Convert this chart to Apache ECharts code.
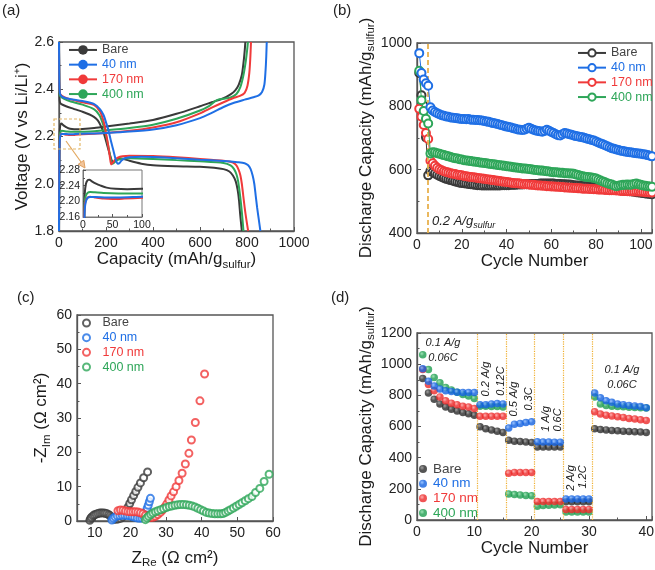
<!DOCTYPE html>
<html><head><meta charset="utf-8">
<script src="https://cdn.jsdelivr.net/npm/echarts@6/dist/echarts.min.js"></script>
<style>html,body{margin:0;padding:0;background:#fff}#c{width:655px;height:570px}</style>
</head><body><div id="c"></div>
<script>
// ---------- (a) voltage profiles [capacity, voltage] ----------
const dischargeBare = [[0,2.56],[1,2.44],[2,2.37],[4,2.345],[10,2.337],[30,2.328],[60,2.318],[100,2.305],[130,2.293],[150,2.282],[165,2.268],[178,2.245],[190,2.215],[202,2.175],[213,2.135],[222,2.105],[230,2.09],[237,2.093],[246,2.104],[258,2.108],[275,2.105],[300,2.097],[350,2.085],[400,2.078],[500,2.074],[600,2.072],[660,2.068],[700,2.062],[725,2.052],[740,2.035],[752,2.01],[760,1.975],[766,1.93],[771,1.87],[775,1.83],[778,1.8]];
const discharge40 = [[0,2.6],[1,2.47],[2,2.405],[5,2.378],[20,2.365],[50,2.358],[100,2.35],[150,2.337],[175,2.315],[190,2.29],[200,2.26],[210,2.228],[220,2.185],[231,2.143],[242,2.1],[251,2.085],[258,2.088],[266,2.098],[280,2.108],[300,2.112],[350,2.114],[400,2.113],[500,2.108],[600,2.102],[700,2.096],[760,2.091],[790,2.087],[805,2.078],[815,2.063],[824,2.035],[831,2.0],[837,1.95],[843,1.9],[850,1.85],[857,1.8]];
const discharge170 = [[0,2.575],[1,2.46],[2,2.4],[5,2.38],[20,2.368],[50,2.357],[100,2.345],[150,2.333],[175,2.305],[190,2.263],[200,2.214],[210,2.157],[217,2.11],[222,2.082],[228,2.088],[237,2.1],[250,2.11],[270,2.116],[300,2.118],[400,2.117],[500,2.112],[600,2.105],[700,2.097],[740,2.09],[755,2.078],[765,2.058],[772,2.035],[778,2.0],[784,1.95],[790,1.9],[797,1.85],[805,1.8]];
const discharge400 = [[0,2.57],[1,2.45],[2,2.39],[5,2.372],[20,2.36],[50,2.348],[100,2.335],[150,2.315],[172,2.29],[188,2.25],[200,2.205],[210,2.158],[219,2.112],[226,2.085],[232,2.087],[242,2.097],[260,2.104],[300,2.108],[400,2.105],[500,2.1],[600,2.095],[700,2.088],[730,2.078],[745,2.062],[755,2.04],[762,2.012],[768,1.97],[774,1.92],[779,1.87],[785,1.8]];
const chargeBare = [[0,1.82],[1,2.05],[2,2.17],[3,2.22],[5,2.245],[8,2.254],[11,2.255],[15,2.251],[22,2.245],[30,2.24],[40,2.235],[55,2.232],[75,2.231],[100,2.232],[150,2.236],[200,2.242],[300,2.255],[400,2.27],[500,2.296],[600,2.328],[650,2.345],[700,2.362],[730,2.378],[750,2.395],[765,2.42],[778,2.46],[786,2.52],[790,2.56],[793,2.6]];
const charge40 = [[0,1.8],[1,2.0],[2,2.12],[3,2.18],[5,2.2],[8,2.209],[12,2.211],[20,2.211],[40,2.21],[60,2.21],[100,2.212],[150,2.213],[200,2.215],[300,2.221],[400,2.23],[500,2.248],[600,2.278],[650,2.3],[700,2.325],[742,2.342],[790,2.356],[827,2.366],[850,2.374],[864,2.388],[874,2.42],[879,2.48],[882,2.54],[884,2.6]];
const charge170 = [[0,1.846],[1,2.05],[2,2.15],[3,2.19],[5,2.203],[8,2.21],[12,2.212],[20,2.21],[35,2.207],[50,2.206],[70,2.207],[100,2.209],[150,2.212],[200,2.215],[300,2.224],[400,2.238],[500,2.26],[600,2.298],[650,2.322],[700,2.345],[740,2.362],[770,2.372],[790,2.385],[802,2.415],[810,2.47],[814,2.53],[817,2.6]];
const charge400 = [[0,1.85],[1,2.05],[2,2.15],[3,2.2],[5,2.215],[8,2.222],[12,2.224],[20,2.223],[35,2.221],[60,2.22],[100,2.22],[150,2.222],[200,2.226],[300,2.236],[400,2.25],[500,2.275],[600,2.31],[640,2.33],[665,2.35],[680,2.357],[700,2.36],[730,2.365],[755,2.38],[772,2.41],[785,2.46],[795,2.52],[801,2.57],[804,2.6]];

// ---------- (b) cycling at 0.2 A/g, cycles 1..105 ----------
const cycBare = [905,835,802,702,582,596,592,588,584,580,577,574,571,569,567,565,563,561,559,558,557,556,555,554,553,552,551,551,550,550,550,550,550,550,550,550,550,551,551,551,551,552,552,552,553,553,553,554,554,554,555,555,555,555,556,556,556,556,556,556,556,555,555,555,554,554,553,553,552,551,550,550,549,548,548,547,546,545,545,544,543,542,541,541,540,539,538,537,537,536,535,534,533,533,532,531,530,529,528,527,526,525,524,523,522];
const cyc40 = [968,905,885,873,865,797,787,782,778,775,772,770,768,767,765,764,763,762,761,760,760,759,760,758,758,757,757,756,755,754,752,751,749,747,746,744,742,740,738,736,735,733,731,729,727,726,725,726,729,732,729,726,724,722,721,720,722,726,723,719,716,712,709,708,712,716,714,712,710,708,706,705,703,702,700,698,696,694,692,689,686,683,680,677,674,671,668,666,664,662,660,659,657,656,655,654,653,652,651,650,649,648,646,644,642];
const cyc170 = [792,767,741,716,697,628,620,612,606,601,598,595,593,591,589,587,586,584,583,582,580,579,578,577,576,575,574,573,572,571,570,569,568,567,566,565,564,563,562,561,560,559,558,557,557,556,555,554,554,553,552,552,551,550,550,549,549,548,548,547,547,546,546,545,545,544,544,543,543,542,542,541,541,540,540,540,539,539,538,538,537,537,537,536,536,535,535,535,534,534,533,533,533,532,532,532,531,531,531,530,530,529,529,528,528];
const cyc400 = [912,819,785,761,746,651,655,654,652,650,648,646,644,642,640,638,636,635,633,632,630,629,628,627,626,625,624,623,622,621,620,619,618,617,616,615,614,613,612,611,610,609,608,607,606,605,604,604,603,602,601,600,599,598,597,597,596,595,594,593,592,592,591,590,590,589,589,588,588,587,585,583,581,579,578,577,576,575,574,572,569,566,563,560,557,555,553,550,548,549,551,552,552,553,552,553,555,556,554,552,550,549,548,547,546];

// ---------- (c) Nyquist [Z_Re, -Z_Im] ----------
const eisBare = [[8.6,0.2],[8.8,0.7],[9.1,1.1],[9.5,1.5],[9.9,1.8],[10.4,2.0],[10.9,2.2],[11.4,2.3],[11.9,2.35],[12.4,2.35],[12.9,2.25],[13.4,2.1],[13.9,1.85],[14.3,1.5],[14.7,1.1],[15.0,0.7],[15.4,0.5],[16.0,0.5],[16.6,0.6],[17.2,0.8],[17.8,1.2],[18.3,2.0],[18.8,3.0],[19.3,4.0],[19.8,5.1],[20.3,6.2],[20.9,7.4],[21.5,8.6],[22.1,9.8],[22.8,11.1],[23.7,12.6],[24.8,14.3]];
const eis40 = [[14.8,0.3],[15.2,0.8],[15.7,1.2],[16.3,1.5],[17.0,1.6],[17.7,1.7],[18.4,1.7],[19.1,1.6],[19.8,1.5],[20.5,1.3],[21.2,1.1],[21.9,0.9],[22.6,0.8],[23.2,0.9],[23.7,1.3],[24.1,2.0],[24.4,2.8],[24.7,3.7],[25.0,4.6],[25.3,5.6],[25.6,6.6]];
const eis170 = [[16.5,3.0],[17.2,3.2],[17.9,3.1],[18.6,2.9],[19.3,2.8],[20.0,2.7],[20.7,2.7],[21.4,2.7],[22.1,2.6],[22.8,2.4],[23.5,2.1],[24.2,1.7],[24.9,1.3],[25.6,1.0],[26.3,1.1],[27.0,1.4],[27.7,1.9],[28.4,2.5],[29.0,3.2],[29.6,4.0],[30.2,5.0],[30.8,6.1],[31.4,7.3],[32.1,8.5],[32.8,10.0],[33.6,11.8],[34.5,13.9],[35.4,16.6],[36.4,19.7],[37.1,23.6],[38.2,28.7],[39.5,35.0],[40.8,42.8]];
const eis400 = [[24.2,0.4],[24.6,0.9],[25.1,1.4],[25.7,1.9],[26.3,2.3],[27.0,2.7],[27.7,3.0],[28.5,3.3],[29.3,3.6],[30.1,3.9],[30.9,4.2],[31.7,4.4],[32.5,4.6],[33.3,4.7],[34.1,4.8],[34.9,4.8],[35.7,4.7],[36.5,4.6],[37.3,4.4],[38.1,4.1],[38.9,3.7],[39.7,3.3],[40.5,2.9],[41.3,2.5],[42.1,2.3],[42.9,2.2],[43.7,2.1],[44.5,2.1],[45.3,2.1],[46.0,2.2],[46.7,2.5],[47.4,2.9],[48.1,3.3],[48.9,3.8],[49.7,4.3],[50.5,4.8],[51.3,5.3],[52.2,5.9],[53.1,6.5],[54.1,7.1],[55.1,8.3],[56.3,9.5],[57.5,11.5],[58.9,13.6]];

// ---------- (d) rate capability, cycles 1..40 ----------
const rateBare = [908,815,775,745,725,710,700,690,682,672,598,585,578,570,562,512,505,503,500,497,468,468,468,468,468,117,117,117,117,117,585,580,578,575,573,570,568,566,564,562];
const rate40 = [970,890,860,840,830,825,820,818,818,818,740,740,745,748,745,590,615,620,625,630,502,500,500,499,499,135,135,135,135,135,815,785,765,755,745,740,735,732,728,720];
const rate170 = [965,870,830,790,765,750,740,730,725,715,665,665,665,665,665,300,305,305,305,305,118,118,118,118,118,68,68,68,68,68,695,680,672,668,662,658,652,648,643,638];
const rate400 = [1060,965,915,880,850,835,820,805,795,780,730,730,728,728,725,167,163,160,158,155,88,93,95,97,98,52,52,52,52,52,790,745,735,730,728,726,724,722,720,718];
const rateBoundaries = [10.5,15.5,20.5,25.5,30.5];

const names = ['Bare','40 nm','170 nm','400 nm'];
const colors = ['#3a3a3a','#1f6fe5','#f03a3a','#2ea659'];
const textColors = ['#444444','#1f6fe5','#f03a3a','#2ea659'];

const FONT = '"Liberation Sans", Arial, Helvetica, sans-serif';
const AX = '#555';
const RICH = {
  t:{fontSize:17, fontFamily:FONT, color:'#1a1a1a', lineHeight:24, verticalAlign:'middle'},
  s:{fontSize:11.5, fontFamily:FONT, color:'#1a1a1a', verticalAlign:'top', padding:[11,0,0,0]}
};
const plain = v => String(v);

function ax(o){
  const base = {
    type:'value',
    axisLine:{show:true,onZero:false,lineStyle:{color:AX,width:1.3}},
    axisTick:{show:true,inside:true,length:4,lineStyle:{color:AX,width:1}},
    minorTick:{show:true,splitNumber:2,length:2.5,lineStyle:{color:AX,width:1}},
    axisLabel:{color:'#222',fontSize:14,fontFamily:FONT,margin:5,formatter:plain},
    splitLine:{show:false},
    nameLocation:'middle',
    nameTextStyle:{rich:RICH}
  };
  for (const k in o){
    if (base[k] && typeof base[k]==='object' && !Array.isArray(base[k]) && typeof o[k]==='object') base[k]=Object.assign({},base[k],o[k]);
    else base[k]=o[k];
  }
  return base;
}
const gridStyle = {show:true,borderColor:AX,borderWidth:1.3,outerBoundsMode:'none',containLabel:false};

function ball(base, light){
  return {type:'radial',x:0.38,y:0.35,r:0.7,colorStops:[{offset:0,color:light},{offset:0.45,color:base},{offset:1,color:base}]};
}
const ballColors = [ball('#2a2a2a','#8a8a8a'), ball('#1462e0','#7fb4ff'), ball('#ec2a2a','#ff9a9a'), ball('#1f9e50','#86dca4')];

const series = [];
const drawA = [0,3,2,1];
const dis = [dischargeBare,discharge40,discharge170,discharge400];
const chg = [chargeBare,charge40,charge170,charge400];
drawA.forEach(i=>{
  [dis[i],chg[i]].forEach(d=>{
    series.push({type:'line',name:names[i],xAxisIndex:0,yAxisIndex:0,data:d,symbol:'none',showSymbol:false,smooth:0.25,
      lineStyle:{color:colors[i],width:2},itemStyle:{color:colors[i]},z:2,silent:true});
  });
  series.push({type:'line',name:'inset '+names[i],xAxisIndex:1,yAxisIndex:1,data:chg[i],symbol:'none',showSymbol:false,smooth:0.25,clip:true,
    lineStyle:{color:colors[i],width:2},itemStyle:{color:colors[i]},z:12,silent:true});
});

const cyc = [cycBare,cyc40,cyc170,cyc400];
[0,2,3,1].forEach((i,k)=>{
  const s = {type:'line',name:names[i]+' ',xAxisIndex:2,yAxisIndex:2,data:cyc[i].map((v,j)=>[j+1,v]),
    symbol:'emptyCircle',symbolSize:8,showSymbol:true,lineStyle:{color:colors[i],width:1},
    itemStyle:{color:colors[i],borderWidth:1.1},z:3+k,silent:true};
  if (k===0) s.markLine = {silent:true,symbol:['none','none'],label:{show:false},
    lineStyle:{type:[5,3],color:'#e8b14e',width:1.8},data:[{xAxis:5}]};
  series.push(s);
});

const eis = [eisBare,eis40,eis170,eis400];
[0,1,2,3].forEach(i=>{
  series.push({type:'scatter',name:names[i]+'  ',xAxisIndex:3,yAxisIndex:3,data:eis[i],symbol:'emptyCircle',symbolSize:7,
    itemStyle:{color:colors[i],borderWidth:1},silent:true});
});

const rate = [rateBare,rate40,rate170,rate400];
[0,3,2,1].forEach((i,k)=>{
  const s = {type:'scatter',name:names[i]+'   ',xAxisIndex:4,yAxisIndex:4,data:rate[i].map((v,j)=>[j+1,v]),symbol:'circle',symbolSize:7.5,
    itemStyle:{color:ballColors[i]},z:3+k,silent:true};
  if (k===0) s.markLine = {silent:true,symbol:['none','none'],label:{show:false},
    lineStyle:{type:'dotted',color:'#f0b030',width:1.2},data:rateBoundaries.map(x=>({xAxis:x}))};
  series.push(s);
});

function legendFor(suffix, o){
  return Object.assign({orient:'vertical',padding:0,itemGap:0,
    data:names.map((n,i)=>({name:n+suffix,textStyle:{color:textColors[i]}})),
    textStyle:{fontFamily:FONT,fontSize:12.5,lineHeight:14.7},selectedMode:false}, o);
}

const italic = (t,x,y,rot,size)=>({type:'text',x:x,y:y,rotation:rot||0,silent:true,z:50,
  style:{text:t,fontSize:size||11,fontStyle:'italic',fontFamily:FONT,fill:'#222',align:'center',verticalAlign:'middle'}});

const option = {
  animation:false,
  backgroundColor:'#fff',
  grid:[
    Object.assign({left:59,top:42,width:235,height:189},gridStyle),
    {left:83,top:170,width:59,height:47,show:true,borderColor:'#777',borderWidth:1,backgroundColor:'#fff',z:10,outerBoundsMode:'none'},
    Object.assign({left:417,top:43,width:235,height:190},gridStyle),
    Object.assign({left:77,top:315,width:196,height:206},gridStyle),
    Object.assign({left:417,top:333,width:235,height:187},gridStyle)
  ],
  xAxis:[
    ax({gridIndex:0,min:0,max:1000,interval:200,name:'{t|Capacity (mAh/g}{s|sulfur}{t|)}',nameGap:16}),
    ax({gridIndex:1,min:0,max:100,interval:50,z:11,axisLine:{lineStyle:{color:'#777',width:1}},axisTick:{length:3},minorTick:{length:2},axisLabel:{fontSize:10.5,margin:3}}),
    ax({gridIndex:2,min:0,max:105,interval:20,name:'{t|Cycle Number}',nameGap:15,axisLabel:{showMaxLabel:false}}),
    ax({gridIndex:3,min:5,max:60,interval:5,name:'{t|Z}{s|Re}{t| (Ω cm²)}',nameGap:25,
        axisLabel:{customValues:[10,20,30,40,50,60],formatter:v=>(v%10===0?String(v):'')},axisTick:{customValues:[10,20,30,40,50,60]},minorTick:{show:false}}),
    ax({gridIndex:4,min:0,max:41,interval:10,name:'{t|Cycle Number}',nameGap:15,axisLabel:{showMaxLabel:false}})
  ],
  yAxis:[
    ax({gridIndex:0,min:1.8,max:2.6,interval:0.2,name:'{t|Voltage (V vs Li/Li⁺)}',nameRotate:90,nameGap:22,axisLabel:{formatter:v=>v.toFixed(1)}}),
    ax({gridIndex:1,min:2.16,max:2.28,interval:0.04,z:11,axisLine:{lineStyle:{color:'#777',width:1}},axisTick:{length:3},minorTick:{length:2},axisLabel:{fontSize:10.5,margin:3,formatter:v=>v.toFixed(2)}}),
    ax({gridIndex:2,min:400,max:1000,interval:200,name:'{t|Discharge Capacity (mAh/g}{s|sulfur}{t|)}',nameRotate:90,nameGap:35}),
    ax({gridIndex:3,min:0,max:60,interval:10,name:'{t|-Z}{s|Im}{t| (Ω cm²)}',nameRotate:90,nameGap:22}),
    ax({gridIndex:4,min:0,max:1200,interval:200,name:'{t|Discharge Capacity (mAh/g}{s|sulfur}{t|)}',nameRotate:90,nameGap:35})
  ],
  legend:[
    legendFor('',{left:68,top:42.6,itemWidth:28,itemHeight:12}),
    legendFor(' ',{left:577,top:45.6,itemWidth:28,itemHeight:9}),
    legendFor('  ',{left:82,top:315.6,itemWidth:22,itemHeight:7}),
    legendFor('   ',{left:419,top:461.6,itemWidth:10,itemHeight:8,textStyle:{fontFamily:FONT,fontSize:13.5,lineHeight:14.7}})
  ],
  series:series,
  graphic:[
    {type:'text',left:2,top:3,style:{text:'(a)',fontSize:15,fontFamily:FONT,fill:'#222'}},
    {type:'text',left:333,top:3,style:{text:'(b)',fontSize:15,fontFamily:FONT,fill:'#222'}},
    {type:'text',left:17,top:290,style:{text:'(c)',fontSize:15,fontFamily:FONT,fill:'#222'}},
    {type:'text',left:331,top:290,style:{text:'(d)',fontSize:15,fontFamily:FONT,fill:'#222'}},
    {type:'rect',shape:{x:54,y:119,width:26,height:30},z:40,silent:true,style:{fill:'none',stroke:'#e3b868',lineWidth:1.2,lineDash:[3,2]}},
    {type:'line',shape:{x1:66,y1:141,x2:81,y2:162},z:40,silent:true,style:{stroke:'#e3a860',lineWidth:1.2}},
    {type:'polygon',shape:{points:[[85,168],[78.2,164.3],[83.8,160.3]]},z:40,silent:true,style:{fill:'#f2c59a',stroke:'#e0a060',lineWidth:1}},
    {type:'text',x:432,y:221,z:50,silent:true,style:{text:'{a|0.2 A/g}{s|sulfur}',
      rich:{a:{fontSize:13,fontStyle:'italic',fontFamily:FONT,fill:'#222',lineHeight:18,verticalAlign:'middle'},
            s:{fontSize:9,fontStyle:'italic',fontFamily:FONT,fill:'#222',verticalAlign:'top',padding:[9,0,0,0]}},
      verticalAlign:'middle'}},
    italic('0.1 A/g',443,343),
    italic('0.06C',443,358),
    italic('0.2 A/g',486,379,Math.PI/2),
    italic('0.12C',501,381,Math.PI/2),
    italic('0.5 A/g',514,399,Math.PI/2),
    italic('0.3C',529,399,Math.PI/2),
    italic('1 A/g',546,419,Math.PI/2),
    italic('0.6C',558,420,Math.PI/2),
    italic('2 A/g',571,478,Math.PI/2),
    italic('1.2C',583,477,Math.PI/2),
    italic('0.1 A/g',622,370),
    italic('0.06C',622,385)
  ]
};
const chart = echarts.init(document.getElementById('c'),null,{renderer:'canvas',width:655,height:570});
chart.setOption(option);
</script></body></html>
